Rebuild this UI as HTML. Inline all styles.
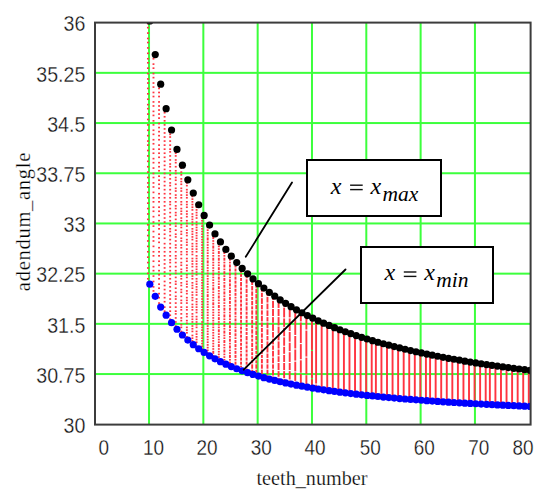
<!DOCTYPE html>
<html><head><meta charset="utf-8"><style>
html,body{margin:0;padding:0;background:#fff;width:550px;height:493px;overflow:hidden}
svg{display:block}
</style></head><body>
<svg width="550" height="493" viewBox="0 0 550 493">
<defs><clipPath id="pc"><rect x="94" y="22" width="437" height="403"/></clipPath></defs>
<rect width="550" height="493" fill="#fff"/>
<g fill="#3cff3c"><rect x="148.02" y="22" width="2.0" height="403"/><rect x="202.34" y="22" width="2.0" height="403"/><rect x="256.66" y="22" width="2.0" height="403"/><rect x="310.98" y="22" width="2.0" height="403"/><rect x="365.30" y="22" width="2.0" height="403"/><rect x="419.62" y="22" width="2.0" height="403"/><rect x="473.94" y="22" width="2.0" height="403"/><rect x="94" y="71.85" width="437" height="2.0"/><rect x="94" y="122.05" width="437" height="2.0"/><rect x="94" y="172.25" width="437" height="2.0"/><rect x="94" y="222.45" width="437" height="2.0"/><rect x="94" y="272.65" width="437" height="2.0"/><rect x="94" y="322.85" width="437" height="2.0"/><rect x="94" y="373.05" width="437" height="2.0"/></g>
<g clip-path="url(#pc)">
<g fill="#ff3440"><rect x="146.97" y="22.80" width="1.9" height="1.65"/><rect x="146.97" y="26.85" width="1.9" height="1.65"/><rect x="146.97" y="32.25" width="1.9" height="1.65"/><rect x="146.97" y="37.65" width="1.9" height="1.65"/><rect x="146.97" y="41.70" width="1.9" height="1.65"/><rect x="146.97" y="47.10" width="1.9" height="1.65"/><rect x="146.97" y="52.50" width="1.9" height="1.65"/><rect x="146.97" y="57.90" width="1.9" height="1.65"/><rect x="146.97" y="61.95" width="1.9" height="1.65"/><rect x="146.97" y="67.35" width="1.9" height="1.65"/><rect x="146.97" y="72.75" width="1.9" height="1.65"/><rect x="146.97" y="78.15" width="1.9" height="1.65"/><rect x="146.97" y="82.20" width="1.9" height="1.65"/><rect x="146.97" y="87.60" width="1.9" height="1.65"/><rect x="146.97" y="93.00" width="1.9" height="1.65"/><rect x="146.97" y="98.40" width="1.9" height="1.65"/><rect x="146.97" y="103.80" width="1.9" height="1.65"/><rect x="146.97" y="107.85" width="1.9" height="1.65"/><rect x="146.97" y="113.25" width="1.9" height="1.65"/><rect x="146.97" y="118.65" width="1.9" height="1.65"/><rect x="146.97" y="124.05" width="1.9" height="1.65"/><rect x="146.97" y="129.45" width="1.9" height="1.65"/><rect x="146.97" y="134.85" width="1.9" height="1.65"/><rect x="146.97" y="140.25" width="1.9" height="1.65"/><rect x="146.97" y="144.30" width="1.9" height="1.65"/><rect x="146.97" y="149.70" width="1.9" height="1.65"/><rect x="146.97" y="155.10" width="1.9" height="1.65"/><rect x="146.97" y="160.50" width="1.9" height="1.65"/><rect x="146.97" y="165.90" width="1.9" height="1.65"/><rect x="146.97" y="171.30" width="1.9" height="1.65"/><rect x="146.97" y="176.70" width="1.9" height="1.65"/><rect x="146.97" y="182.10" width="1.9" height="1.65"/><rect x="146.97" y="186.15" width="1.9" height="1.65"/><rect x="146.97" y="191.55" width="1.9" height="1.65"/><rect x="146.97" y="196.95" width="1.9" height="1.65"/><rect x="146.97" y="202.35" width="1.9" height="1.65"/><rect x="146.97" y="207.75" width="1.9" height="1.65"/><rect x="146.97" y="213.15" width="1.9" height="1.65"/><rect x="146.97" y="218.55" width="1.9" height="1.65"/><rect x="146.97" y="223.95" width="1.9" height="1.65"/><rect x="146.97" y="229.35" width="1.9" height="1.65"/><rect x="146.97" y="234.75" width="1.9" height="1.65"/><rect x="146.97" y="240.15" width="1.9" height="1.65"/><rect x="146.97" y="245.55" width="1.9" height="1.65"/><rect x="146.97" y="250.95" width="1.9" height="1.65"/><rect x="146.97" y="256.35" width="1.9" height="1.65"/><rect x="146.97" y="261.75" width="1.9" height="1.65"/><rect x="146.97" y="267.15" width="1.9" height="1.65"/><rect x="146.97" y="272.55" width="1.9" height="1.65"/><rect x="146.97" y="277.95" width="1.9" height="1.65"/><rect x="146.97" y="283.35" width="1.9" height="1.65"/><rect x="152.53" y="53.85" width="1.9" height="1.65"/><rect x="152.53" y="57.90" width="1.9" height="1.65"/><rect x="152.53" y="63.30" width="1.9" height="1.65"/><rect x="152.53" y="67.35" width="1.9" height="1.65"/><rect x="152.53" y="72.75" width="1.9" height="1.65"/><rect x="152.53" y="76.80" width="1.9" height="1.65"/><rect x="152.53" y="82.20" width="1.9" height="1.65"/><rect x="152.53" y="86.25" width="1.9" height="1.65"/><rect x="152.53" y="91.65" width="1.9" height="1.65"/><rect x="152.53" y="95.70" width="1.9" height="1.65"/><rect x="152.53" y="101.10" width="1.9" height="1.65"/><rect x="152.53" y="105.15" width="1.9" height="1.65"/><rect x="152.53" y="110.55" width="1.9" height="1.65"/><rect x="152.53" y="114.60" width="1.9" height="1.65"/><rect x="152.53" y="120.00" width="1.9" height="1.65"/><rect x="152.53" y="124.05" width="1.9" height="1.65"/><rect x="152.53" y="129.45" width="1.9" height="1.65"/><rect x="152.53" y="133.50" width="1.9" height="1.65"/><rect x="152.53" y="138.90" width="1.9" height="1.65"/><rect x="152.53" y="142.95" width="1.9" height="1.65"/><rect x="152.53" y="148.35" width="1.9" height="1.65"/><rect x="152.53" y="152.40" width="1.9" height="1.65"/><rect x="152.53" y="157.80" width="1.9" height="1.65"/><rect x="152.53" y="161.85" width="1.9" height="1.65"/><rect x="152.53" y="167.25" width="1.9" height="1.65"/><rect x="152.53" y="172.65" width="1.9" height="1.65"/><rect x="152.53" y="176.70" width="1.9" height="1.65"/><rect x="152.53" y="182.10" width="1.9" height="1.65"/><rect x="152.53" y="186.15" width="1.9" height="1.65"/><rect x="152.53" y="191.55" width="1.9" height="1.65"/><rect x="152.53" y="196.95" width="1.9" height="1.65"/><rect x="152.53" y="201.00" width="1.9" height="1.65"/><rect x="152.53" y="206.40" width="1.9" height="1.65"/><rect x="152.53" y="210.45" width="1.9" height="1.65"/><rect x="152.53" y="215.85" width="1.9" height="1.65"/><rect x="152.53" y="221.25" width="1.9" height="1.65"/><rect x="152.53" y="225.30" width="1.9" height="1.65"/><rect x="152.53" y="230.70" width="1.9" height="1.65"/><rect x="152.53" y="236.10" width="1.9" height="1.65"/><rect x="152.53" y="240.15" width="1.9" height="1.65"/><rect x="152.53" y="245.55" width="1.9" height="1.65"/><rect x="152.53" y="250.95" width="1.9" height="1.65"/><rect x="152.53" y="255.00" width="1.9" height="1.65"/><rect x="152.53" y="260.40" width="1.9" height="1.65"/><rect x="152.53" y="265.80" width="1.9" height="1.65"/><rect x="152.53" y="269.85" width="1.9" height="1.65"/><rect x="152.53" y="275.25" width="1.9" height="1.65"/><rect x="152.53" y="280.65" width="1.9" height="1.65"/><rect x="152.53" y="286.05" width="1.9" height="1.65"/><rect x="152.53" y="290.10" width="1.9" height="1.65"/><rect x="152.53" y="295.50" width="1.9" height="1.65"/><rect x="158.09" y="83.55" width="1.9" height="1.65"/><rect x="158.09" y="87.60" width="1.9" height="1.65"/><rect x="158.09" y="91.65" width="1.9" height="1.65"/><rect x="158.09" y="95.70" width="1.9" height="1.65"/><rect x="158.09" y="101.10" width="1.9" height="1.65"/><rect x="158.09" y="105.15" width="1.9" height="1.65"/><rect x="158.09" y="109.20" width="1.9" height="1.65"/><rect x="158.09" y="113.25" width="1.9" height="1.65"/><rect x="158.09" y="117.30" width="1.9" height="1.65"/><rect x="158.09" y="122.70" width="1.9" height="1.65"/><rect x="158.09" y="126.75" width="1.9" height="1.65"/><rect x="158.09" y="130.80" width="1.9" height="1.65"/><rect x="158.09" y="134.85" width="1.9" height="1.65"/><rect x="158.09" y="138.90" width="1.9" height="1.65"/><rect x="158.09" y="144.30" width="1.9" height="1.65"/><rect x="158.09" y="148.35" width="1.9" height="1.65"/><rect x="158.09" y="152.40" width="1.9" height="1.65"/><rect x="158.09" y="156.45" width="1.9" height="1.65"/><rect x="158.09" y="161.85" width="1.9" height="1.65"/><rect x="158.09" y="165.90" width="1.9" height="1.65"/><rect x="158.09" y="169.95" width="1.9" height="1.65"/><rect x="158.09" y="175.35" width="1.9" height="1.65"/><rect x="158.09" y="179.40" width="1.9" height="1.65"/><rect x="158.09" y="183.45" width="1.9" height="1.65"/><rect x="158.09" y="187.50" width="1.9" height="1.65"/><rect x="158.09" y="192.90" width="1.9" height="1.65"/><rect x="158.09" y="196.95" width="1.9" height="1.65"/><rect x="158.09" y="201.00" width="1.9" height="1.65"/><rect x="158.09" y="206.40" width="1.9" height="1.65"/><rect x="158.09" y="210.45" width="1.9" height="1.65"/><rect x="158.09" y="214.50" width="1.9" height="1.65"/><rect x="158.09" y="219.90" width="1.9" height="1.65"/><rect x="158.09" y="223.95" width="1.9" height="1.65"/><rect x="158.09" y="228.00" width="1.9" height="1.65"/><rect x="158.09" y="233.40" width="1.9" height="1.65"/><rect x="158.09" y="237.45" width="1.9" height="1.65"/><rect x="158.09" y="241.50" width="1.9" height="1.65"/><rect x="158.09" y="246.90" width="1.9" height="1.65"/><rect x="158.09" y="250.95" width="1.9" height="1.65"/><rect x="158.09" y="255.00" width="1.9" height="1.65"/><rect x="158.09" y="260.40" width="1.9" height="1.65"/><rect x="158.09" y="264.45" width="1.9" height="1.65"/><rect x="158.09" y="269.85" width="1.9" height="1.65"/><rect x="158.09" y="273.90" width="1.9" height="1.65"/><rect x="158.09" y="277.95" width="1.9" height="1.65"/><rect x="158.09" y="283.35" width="1.9" height="1.65"/><rect x="158.09" y="287.40" width="1.9" height="1.65"/><rect x="158.09" y="292.80" width="1.9" height="1.65"/><rect x="158.09" y="296.85" width="1.9" height="1.65"/><rect x="158.09" y="302.25" width="1.9" height="1.65"/><rect x="158.09" y="306.30" width="1.9" height="1.65"/><rect x="163.66" y="107.85" width="1.9" height="1.65"/><rect x="163.66" y="111.90" width="1.9" height="1.65"/><rect x="163.66" y="115.95" width="1.9" height="1.65"/><rect x="163.66" y="120.00" width="1.9" height="1.65"/><rect x="163.66" y="124.05" width="1.9" height="1.65"/><rect x="163.66" y="128.10" width="1.9" height="1.65"/><rect x="163.66" y="132.15" width="1.9" height="1.65"/><rect x="163.66" y="136.20" width="1.9" height="1.65"/><rect x="163.66" y="140.25" width="1.9" height="1.65"/><rect x="163.66" y="144.30" width="1.9" height="1.65"/><rect x="163.66" y="148.35" width="1.9" height="1.65"/><rect x="163.66" y="152.40" width="1.9" height="1.65"/><rect x="163.66" y="156.45" width="1.9" height="1.65"/><rect x="163.66" y="160.50" width="1.9" height="1.65"/><rect x="163.66" y="164.55" width="1.9" height="1.65"/><rect x="163.66" y="168.60" width="1.9" height="1.65"/><rect x="163.66" y="172.65" width="1.9" height="1.65"/><rect x="163.66" y="176.70" width="1.9" height="1.65"/><rect x="163.66" y="180.75" width="1.9" height="1.65"/><rect x="163.66" y="184.80" width="1.9" height="1.65"/><rect x="163.66" y="188.85" width="1.9" height="1.65"/><rect x="163.66" y="192.90" width="1.9" height="1.65"/><rect x="163.66" y="196.95" width="1.9" height="1.65"/><rect x="163.66" y="201.00" width="1.9" height="1.65"/><rect x="163.66" y="205.05" width="1.9" height="1.65"/><rect x="163.66" y="209.10" width="1.9" height="1.65"/><rect x="163.66" y="213.15" width="1.9" height="1.65"/><rect x="163.66" y="217.20" width="1.9" height="1.65"/><rect x="163.66" y="221.25" width="1.9" height="1.65"/><rect x="163.66" y="225.30" width="1.9" height="1.65"/><rect x="163.66" y="229.35" width="1.9" height="1.65"/><rect x="163.66" y="233.40" width="1.9" height="1.65"/><rect x="163.66" y="237.45" width="1.9" height="1.65"/><rect x="163.66" y="242.85" width="1.9" height="1.65"/><rect x="163.66" y="246.90" width="1.9" height="1.65"/><rect x="163.66" y="250.95" width="1.9" height="1.65"/><rect x="163.66" y="255.00" width="1.9" height="1.65"/><rect x="163.66" y="259.05" width="1.9" height="1.65"/><rect x="163.66" y="263.10" width="1.9" height="1.65"/><rect x="163.66" y="267.15" width="1.9" height="1.65"/><rect x="163.66" y="271.20" width="1.9" height="1.65"/><rect x="163.66" y="275.25" width="1.9" height="1.65"/><rect x="163.66" y="280.65" width="1.9" height="1.65"/><rect x="163.66" y="284.70" width="1.9" height="1.65"/><rect x="163.66" y="288.75" width="1.9" height="1.65"/><rect x="163.66" y="292.80" width="1.9" height="1.65"/><rect x="163.66" y="296.85" width="1.9" height="1.65"/><rect x="163.66" y="300.90" width="1.9" height="1.65"/><rect x="163.66" y="306.30" width="1.9" height="1.65"/><rect x="163.66" y="310.35" width="1.9" height="1.65"/><rect x="163.66" y="314.40" width="1.9" height="1.65"/><rect x="169.22" y="129.45" width="1.9" height="1.65"/><rect x="169.22" y="133.50" width="1.9" height="1.65"/><rect x="169.22" y="136.20" width="1.9" height="1.65"/><rect x="169.22" y="140.25" width="1.9" height="1.65"/><rect x="169.22" y="144.30" width="1.9" height="1.65"/><rect x="169.22" y="148.35" width="1.9" height="1.65"/><rect x="169.22" y="151.05" width="1.9" height="1.65"/><rect x="169.22" y="155.10" width="1.9" height="1.65"/><rect x="169.22" y="159.15" width="1.9" height="1.65"/><rect x="169.22" y="163.20" width="1.9" height="1.65"/><rect x="169.22" y="165.90" width="1.9" height="1.65"/><rect x="169.22" y="169.95" width="1.9" height="1.65"/><rect x="169.22" y="174.00" width="1.9" height="1.65"/><rect x="169.22" y="178.05" width="1.9" height="1.65"/><rect x="169.22" y="182.10" width="1.9" height="1.65"/><rect x="169.22" y="184.80" width="1.9" height="1.65"/><rect x="169.22" y="188.85" width="1.9" height="1.65"/><rect x="169.22" y="192.90" width="1.9" height="1.65"/><rect x="169.22" y="196.95" width="1.9" height="1.65"/><rect x="169.22" y="201.00" width="1.9" height="1.65"/><rect x="169.22" y="203.70" width="1.9" height="1.65"/><rect x="169.22" y="207.75" width="1.9" height="1.65"/><rect x="169.22" y="211.80" width="1.9" height="1.65"/><rect x="169.22" y="215.85" width="1.9" height="1.65"/><rect x="169.22" y="219.90" width="1.9" height="1.65"/><rect x="169.22" y="223.95" width="1.9" height="1.65"/><rect x="169.22" y="228.00" width="1.9" height="1.65"/><rect x="169.22" y="230.70" width="1.9" height="1.65"/><rect x="169.22" y="234.75" width="1.9" height="1.65"/><rect x="169.22" y="238.80" width="1.9" height="1.65"/><rect x="169.22" y="242.85" width="1.9" height="1.65"/><rect x="169.22" y="246.90" width="1.9" height="1.65"/><rect x="169.22" y="250.95" width="1.9" height="1.65"/><rect x="169.22" y="255.00" width="1.9" height="1.65"/><rect x="169.22" y="259.05" width="1.9" height="1.65"/><rect x="169.22" y="261.75" width="1.9" height="1.65"/><rect x="169.22" y="265.80" width="1.9" height="1.65"/><rect x="169.22" y="269.85" width="1.9" height="1.65"/><rect x="169.22" y="273.90" width="1.9" height="1.65"/><rect x="169.22" y="277.95" width="1.9" height="1.65"/><rect x="169.22" y="282.00" width="1.9" height="1.65"/><rect x="169.22" y="286.05" width="1.9" height="1.65"/><rect x="169.22" y="290.10" width="1.9" height="1.65"/><rect x="169.22" y="294.15" width="1.9" height="1.65"/><rect x="169.22" y="298.20" width="1.9" height="1.65"/><rect x="169.22" y="302.25" width="1.9" height="1.65"/><rect x="169.22" y="306.30" width="1.9" height="1.65"/><rect x="169.22" y="310.35" width="1.9" height="1.65"/><rect x="169.22" y="314.40" width="1.9" height="1.65"/><rect x="169.22" y="318.45" width="1.9" height="1.65"/><rect x="169.22" y="322.50" width="1.9" height="1.65"/><rect x="174.78" y="148.35" width="1.9" height="1.65"/><rect x="174.78" y="152.40" width="1.9" height="1.65"/><rect x="174.78" y="155.10" width="1.9" height="1.65"/><rect x="174.78" y="159.15" width="1.9" height="1.65"/><rect x="174.78" y="161.85" width="1.9" height="1.65"/><rect x="174.78" y="165.90" width="1.9" height="1.65"/><rect x="174.78" y="169.95" width="1.9" height="1.65"/><rect x="174.78" y="172.65" width="1.9" height="1.65"/><rect x="174.78" y="176.70" width="1.9" height="1.65"/><rect x="174.78" y="179.40" width="1.9" height="1.65"/><rect x="174.78" y="183.45" width="1.9" height="1.65"/><rect x="174.78" y="187.50" width="1.9" height="1.65"/><rect x="174.78" y="190.20" width="1.9" height="1.65"/><rect x="174.78" y="194.25" width="1.9" height="1.65"/><rect x="174.78" y="196.95" width="1.9" height="1.65"/><rect x="174.78" y="201.00" width="1.9" height="1.65"/><rect x="174.78" y="205.05" width="1.9" height="1.65"/><rect x="174.78" y="207.75" width="1.9" height="1.65"/><rect x="174.78" y="211.80" width="1.9" height="1.65"/><rect x="174.78" y="214.50" width="1.9" height="1.65"/><rect x="174.78" y="218.55" width="1.9" height="1.65"/><rect x="174.78" y="222.60" width="1.9" height="1.65"/><rect x="174.78" y="225.30" width="1.9" height="1.65"/><rect x="174.78" y="229.35" width="1.9" height="1.65"/><rect x="174.78" y="233.40" width="1.9" height="1.65"/><rect x="174.78" y="236.10" width="1.9" height="1.65"/><rect x="174.78" y="240.15" width="1.9" height="1.65"/><rect x="174.78" y="244.20" width="1.9" height="1.65"/><rect x="174.78" y="246.90" width="1.9" height="1.65"/><rect x="174.78" y="250.95" width="1.9" height="1.65"/><rect x="174.78" y="255.00" width="1.9" height="1.65"/><rect x="174.78" y="257.70" width="1.9" height="1.65"/><rect x="174.78" y="261.75" width="1.9" height="1.65"/><rect x="174.78" y="265.80" width="1.9" height="1.65"/><rect x="174.78" y="269.85" width="1.9" height="1.65"/><rect x="174.78" y="272.55" width="1.9" height="1.65"/><rect x="174.78" y="276.60" width="1.9" height="1.65"/><rect x="174.78" y="280.65" width="1.9" height="1.65"/><rect x="174.78" y="283.35" width="1.9" height="1.65"/><rect x="174.78" y="287.40" width="1.9" height="1.65"/><rect x="174.78" y="291.45" width="1.9" height="1.65"/><rect x="174.78" y="295.50" width="1.9" height="1.65"/><rect x="174.78" y="298.20" width="1.9" height="1.65"/><rect x="174.78" y="302.25" width="1.9" height="1.65"/><rect x="174.78" y="306.30" width="1.9" height="1.65"/><rect x="174.78" y="310.35" width="1.9" height="1.65"/><rect x="174.78" y="313.05" width="1.9" height="1.65"/><rect x="174.78" y="317.10" width="1.9" height="1.65"/><rect x="174.78" y="321.15" width="1.9" height="1.65"/><rect x="174.78" y="325.20" width="1.9" height="1.65"/><rect x="174.78" y="327.90" width="1.9" height="1.65"/><rect x="180.34" y="164.55" width="1.9" height="1.65"/><rect x="180.34" y="167.25" width="1.9" height="1.65"/><rect x="180.34" y="171.30" width="1.9" height="1.65"/><rect x="180.34" y="174.00" width="1.9" height="1.65"/><rect x="180.34" y="178.05" width="1.9" height="1.65"/><rect x="180.34" y="180.75" width="1.9" height="1.65"/><rect x="180.34" y="183.45" width="1.9" height="1.65"/><rect x="180.34" y="187.50" width="1.9" height="1.65"/><rect x="180.34" y="190.20" width="1.9" height="1.65"/><rect x="180.34" y="194.25" width="1.9" height="1.65"/><rect x="180.34" y="196.95" width="1.9" height="1.65"/><rect x="180.34" y="201.00" width="1.9" height="1.65"/><rect x="180.34" y="203.70" width="1.9" height="1.65"/><rect x="180.34" y="207.75" width="1.9" height="1.65"/><rect x="180.34" y="210.45" width="1.9" height="1.65"/><rect x="180.34" y="213.15" width="1.9" height="1.65"/><rect x="180.34" y="217.20" width="1.9" height="1.65"/><rect x="180.34" y="219.90" width="1.9" height="1.65"/><rect x="180.34" y="223.95" width="1.9" height="1.65"/><rect x="180.34" y="226.65" width="1.9" height="1.65"/><rect x="180.34" y="230.70" width="1.9" height="1.65"/><rect x="180.34" y="233.40" width="1.9" height="1.65"/><rect x="180.34" y="237.45" width="1.9" height="1.65"/><rect x="180.34" y="240.15" width="1.9" height="1.65"/><rect x="180.34" y="244.20" width="1.9" height="1.65"/><rect x="180.34" y="246.90" width="1.9" height="1.65"/><rect x="180.34" y="250.95" width="1.9" height="1.65"/><rect x="180.34" y="253.65" width="1.9" height="1.65"/><rect x="180.34" y="257.70" width="1.9" height="1.65"/><rect x="180.34" y="261.75" width="1.9" height="1.65"/><rect x="180.34" y="264.45" width="1.9" height="1.65"/><rect x="180.34" y="268.50" width="1.9" height="1.65"/><rect x="180.34" y="271.20" width="1.9" height="1.65"/><rect x="180.34" y="275.25" width="1.9" height="1.65"/><rect x="180.34" y="277.95" width="1.9" height="1.65"/><rect x="180.34" y="282.00" width="1.9" height="1.65"/><rect x="180.34" y="284.70" width="1.9" height="1.65"/><rect x="180.34" y="288.75" width="1.9" height="1.65"/><rect x="180.34" y="291.45" width="1.9" height="1.65"/><rect x="180.34" y="295.50" width="1.9" height="1.65"/><rect x="180.34" y="299.55" width="1.9" height="1.65"/><rect x="180.34" y="302.25" width="1.9" height="1.65"/><rect x="180.34" y="306.30" width="1.9" height="1.65"/><rect x="180.34" y="309.00" width="1.9" height="1.65"/><rect x="180.34" y="313.05" width="1.9" height="1.65"/><rect x="180.34" y="317.10" width="1.9" height="1.65"/><rect x="180.34" y="319.80" width="1.9" height="1.65"/><rect x="180.34" y="323.85" width="1.9" height="1.65"/><rect x="180.34" y="326.55" width="1.9" height="1.65"/><rect x="180.34" y="330.60" width="1.9" height="1.65"/><rect x="180.34" y="334.65" width="1.9" height="1.65"/><rect x="185.90" y="179.40" width="1.9" height="1.65"/><rect x="185.90" y="182.10" width="1.9" height="1.65"/><rect x="185.90" y="184.80" width="1.9" height="1.65"/><rect x="185.90" y="188.85" width="1.9" height="1.65"/><rect x="185.90" y="191.55" width="1.9" height="1.65"/><rect x="185.90" y="194.25" width="1.9" height="1.65"/><rect x="185.90" y="196.95" width="1.9" height="1.65"/><rect x="185.90" y="201.00" width="1.9" height="1.65"/><rect x="185.90" y="203.70" width="1.9" height="1.65"/><rect x="185.90" y="206.40" width="1.9" height="1.65"/><rect x="185.90" y="210.45" width="1.9" height="1.65"/><rect x="185.90" y="213.15" width="1.9" height="1.65"/><rect x="185.90" y="215.85" width="1.9" height="1.65"/><rect x="185.90" y="219.90" width="1.9" height="1.65"/><rect x="185.90" y="222.60" width="1.9" height="1.65"/><rect x="185.90" y="225.30" width="1.9" height="1.65"/><rect x="185.90" y="229.35" width="1.9" height="1.65"/><rect x="185.90" y="232.05" width="1.9" height="1.65"/><rect x="185.90" y="234.75" width="1.9" height="1.65"/><rect x="185.90" y="238.80" width="1.9" height="1.65"/><rect x="185.90" y="241.50" width="1.9" height="1.65"/><rect x="185.90" y="244.20" width="1.9" height="1.65"/><rect x="185.90" y="248.25" width="1.9" height="1.65"/><rect x="185.90" y="250.95" width="1.9" height="1.65"/><rect x="185.90" y="253.65" width="1.9" height="1.65"/><rect x="185.90" y="257.70" width="1.9" height="1.65"/><rect x="185.90" y="260.40" width="1.9" height="1.65"/><rect x="185.90" y="264.45" width="1.9" height="1.65"/><rect x="185.90" y="267.15" width="1.9" height="1.65"/><rect x="185.90" y="269.85" width="1.9" height="1.65"/><rect x="185.90" y="273.90" width="1.9" height="1.65"/><rect x="185.90" y="276.60" width="1.9" height="1.65"/><rect x="185.90" y="280.65" width="1.9" height="1.65"/><rect x="185.90" y="283.35" width="1.9" height="1.65"/><rect x="185.90" y="286.05" width="1.9" height="1.65"/><rect x="185.90" y="290.10" width="1.9" height="1.65"/><rect x="185.90" y="292.80" width="1.9" height="1.65"/><rect x="185.90" y="296.85" width="1.9" height="1.65"/><rect x="185.90" y="299.55" width="1.9" height="1.65"/><rect x="185.90" y="302.25" width="1.9" height="1.65"/><rect x="185.90" y="306.30" width="1.9" height="1.65"/><rect x="185.90" y="309.00" width="1.9" height="1.65"/><rect x="185.90" y="313.05" width="1.9" height="1.65"/><rect x="185.90" y="315.75" width="1.9" height="1.65"/><rect x="185.90" y="319.80" width="1.9" height="1.65"/><rect x="185.90" y="322.50" width="1.9" height="1.65"/><rect x="185.90" y="326.55" width="1.9" height="1.65"/><rect x="185.90" y="329.25" width="1.9" height="1.65"/><rect x="185.90" y="331.95" width="1.9" height="1.65"/><rect x="185.90" y="336.00" width="1.9" height="1.65"/><rect x="185.90" y="338.70" width="1.9" height="1.65"/><rect x="191.46" y="191.55" width="1.9" height="1.65"/><rect x="191.46" y="195.60" width="1.9" height="1.65"/><rect x="191.46" y="198.30" width="1.9" height="1.65"/><rect x="191.46" y="201.00" width="1.9" height="1.65"/><rect x="191.46" y="203.70" width="1.9" height="1.65"/><rect x="191.46" y="206.40" width="1.9" height="1.65"/><rect x="191.46" y="209.10" width="1.9" height="1.65"/><rect x="191.46" y="213.15" width="1.9" height="1.65"/><rect x="191.46" y="215.85" width="1.9" height="1.65"/><rect x="191.46" y="218.55" width="1.9" height="1.65"/><rect x="191.46" y="221.25" width="1.9" height="1.65"/><rect x="191.46" y="223.95" width="1.9" height="1.65"/><rect x="191.46" y="228.00" width="1.9" height="1.65"/><rect x="191.46" y="230.70" width="1.9" height="1.65"/><rect x="191.46" y="233.40" width="1.9" height="1.65"/><rect x="191.46" y="236.10" width="1.9" height="1.65"/><rect x="191.46" y="238.80" width="1.9" height="1.65"/><rect x="191.46" y="242.85" width="1.9" height="1.65"/><rect x="191.46" y="245.55" width="1.9" height="1.65"/><rect x="191.46" y="248.25" width="1.9" height="1.65"/><rect x="191.46" y="250.95" width="1.9" height="1.65"/><rect x="191.46" y="253.65" width="1.9" height="1.65"/><rect x="191.46" y="257.70" width="1.9" height="1.65"/><rect x="191.46" y="260.40" width="1.9" height="1.65"/><rect x="191.46" y="263.10" width="1.9" height="1.65"/><rect x="191.46" y="265.80" width="1.9" height="1.65"/><rect x="191.46" y="269.85" width="1.9" height="1.65"/><rect x="191.46" y="272.55" width="1.9" height="1.65"/><rect x="191.46" y="275.25" width="1.9" height="1.65"/><rect x="191.46" y="277.95" width="1.9" height="1.65"/><rect x="191.46" y="282.00" width="1.9" height="1.65"/><rect x="191.46" y="284.70" width="1.9" height="1.65"/><rect x="191.46" y="287.40" width="1.9" height="1.65"/><rect x="191.46" y="291.45" width="1.9" height="1.65"/><rect x="191.46" y="294.15" width="1.9" height="1.65"/><rect x="191.46" y="296.85" width="1.9" height="1.65"/><rect x="191.46" y="299.55" width="1.9" height="1.65"/><rect x="191.46" y="303.60" width="1.9" height="1.65"/><rect x="191.46" y="306.30" width="1.9" height="1.65"/><rect x="191.46" y="309.00" width="1.9" height="1.65"/><rect x="191.46" y="313.05" width="1.9" height="1.65"/><rect x="191.46" y="315.75" width="1.9" height="1.65"/><rect x="191.46" y="318.45" width="1.9" height="1.65"/><rect x="191.46" y="321.15" width="1.9" height="1.65"/><rect x="191.46" y="325.20" width="1.9" height="1.65"/><rect x="191.46" y="327.90" width="1.9" height="1.65"/><rect x="191.46" y="330.60" width="1.9" height="1.65"/><rect x="191.46" y="334.65" width="1.9" height="1.65"/><rect x="191.46" y="337.35" width="1.9" height="1.65"/><rect x="191.46" y="340.05" width="1.9" height="1.65"/><rect x="191.46" y="344.10" width="1.9" height="1.65"/><rect x="195.62" y="203.70" width="1.9" height="1.65"/><rect x="195.62" y="206.40" width="1.9" height="1.65"/><rect x="195.62" y="209.10" width="1.9" height="1.65"/><rect x="195.62" y="211.80" width="1.9" height="1.65"/><rect x="195.62" y="214.50" width="1.9" height="1.65"/><rect x="195.62" y="217.20" width="1.9" height="1.65"/><rect x="195.62" y="221.25" width="1.9" height="1.65"/><rect x="195.62" y="223.95" width="1.9" height="1.65"/><rect x="195.62" y="226.65" width="1.9" height="1.65"/><rect x="195.62" y="229.35" width="1.9" height="1.65"/><rect x="195.62" y="232.05" width="1.9" height="1.65"/><rect x="195.62" y="234.75" width="1.9" height="1.65"/><rect x="195.62" y="237.45" width="1.9" height="1.65"/><rect x="195.62" y="240.15" width="1.9" height="1.65"/><rect x="195.62" y="242.85" width="1.9" height="1.65"/><rect x="195.62" y="245.55" width="1.9" height="1.65"/><rect x="195.62" y="248.25" width="1.9" height="1.65"/><rect x="195.62" y="250.95" width="1.9" height="1.65"/><rect x="195.62" y="255.00" width="1.9" height="1.65"/><rect x="195.62" y="257.70" width="1.9" height="1.65"/><rect x="195.62" y="260.40" width="1.9" height="1.65"/><rect x="195.62" y="263.10" width="1.9" height="1.65"/><rect x="195.62" y="265.80" width="1.9" height="1.65"/><rect x="195.62" y="268.50" width="1.9" height="1.65"/><rect x="195.62" y="271.20" width="1.9" height="1.65"/><rect x="195.62" y="273.90" width="1.9" height="1.65"/><rect x="195.62" y="277.95" width="1.9" height="1.65"/><rect x="195.62" y="280.65" width="1.9" height="1.65"/><rect x="195.62" y="283.35" width="1.9" height="1.65"/><rect x="195.62" y="286.05" width="1.9" height="1.65"/><rect x="195.62" y="288.75" width="1.9" height="1.65"/><rect x="195.62" y="291.45" width="1.9" height="1.65"/><rect x="195.62" y="294.15" width="1.9" height="1.65"/><rect x="195.62" y="298.20" width="1.9" height="1.65"/><rect x="195.62" y="300.90" width="1.9" height="1.65"/><rect x="195.62" y="303.60" width="1.9" height="1.65"/><rect x="195.62" y="306.30" width="1.9" height="1.65"/><rect x="195.62" y="309.00" width="1.9" height="1.65"/><rect x="195.62" y="311.70" width="1.9" height="1.65"/><rect x="195.62" y="315.75" width="1.9" height="1.65"/><rect x="195.62" y="318.45" width="1.9" height="1.65"/><rect x="195.62" y="321.15" width="1.9" height="1.65"/><rect x="195.62" y="323.85" width="1.9" height="1.65"/><rect x="195.62" y="326.55" width="1.9" height="1.65"/><rect x="195.62" y="330.60" width="1.9" height="1.65"/><rect x="195.62" y="333.30" width="1.9" height="1.65"/><rect x="195.62" y="336.00" width="1.9" height="1.65"/><rect x="195.62" y="338.70" width="1.9" height="1.65"/><rect x="195.62" y="341.40" width="1.9" height="1.65"/><rect x="195.62" y="345.45" width="1.9" height="1.65"/><rect x="195.62" y="348.15" width="1.9" height="1.65"/><rect x="201.19" y="214.50" width="1.9" height="1.65"/><rect x="201.19" y="217.20" width="1.9" height="1.65"/><rect x="201.19" y="219.90" width="1.9" height="1.65"/><rect x="201.19" y="222.60" width="1.9" height="1.65"/><rect x="201.19" y="225.30" width="1.9" height="1.65"/><rect x="201.19" y="228.00" width="1.9" height="1.65"/><rect x="201.19" y="230.70" width="1.9" height="1.65"/><rect x="201.19" y="233.40" width="1.9" height="1.65"/><rect x="201.19" y="236.10" width="1.9" height="1.65"/><rect x="201.19" y="238.80" width="1.9" height="1.65"/><rect x="201.19" y="241.50" width="1.9" height="1.65"/><rect x="201.19" y="244.20" width="1.9" height="1.65"/><rect x="201.19" y="246.90" width="1.9" height="1.65"/><rect x="201.19" y="249.60" width="1.9" height="1.65"/><rect x="201.19" y="252.30" width="1.9" height="1.65"/><rect x="201.19" y="255.00" width="1.9" height="1.65"/><rect x="201.19" y="257.70" width="1.9" height="1.65"/><rect x="201.19" y="260.40" width="1.9" height="1.65"/><rect x="201.19" y="263.10" width="1.9" height="1.65"/><rect x="201.19" y="265.80" width="1.9" height="1.65"/><rect x="201.19" y="268.50" width="1.9" height="1.65"/><rect x="201.19" y="271.20" width="1.9" height="1.65"/><rect x="201.19" y="273.90" width="1.9" height="1.65"/><rect x="201.19" y="276.60" width="1.9" height="1.65"/><rect x="201.19" y="279.30" width="1.9" height="1.65"/><rect x="201.19" y="282.00" width="1.9" height="1.65"/><rect x="201.19" y="284.70" width="1.9" height="1.65"/><rect x="201.19" y="287.40" width="1.9" height="1.65"/><rect x="201.19" y="290.10" width="1.9" height="1.65"/><rect x="201.19" y="292.80" width="1.9" height="1.65"/><rect x="201.19" y="295.50" width="1.9" height="1.65"/><rect x="201.19" y="298.20" width="1.9" height="1.65"/><rect x="201.19" y="300.90" width="1.9" height="1.65"/><rect x="201.19" y="303.60" width="1.9" height="1.65"/><rect x="201.19" y="306.30" width="1.9" height="1.65"/><rect x="201.19" y="309.00" width="1.9" height="1.65"/><rect x="201.19" y="311.70" width="1.9" height="1.65"/><rect x="201.19" y="314.40" width="1.9" height="1.65"/><rect x="201.19" y="317.10" width="1.9" height="1.65"/><rect x="201.19" y="321.15" width="1.9" height="1.65"/><rect x="201.19" y="323.85" width="1.9" height="1.65"/><rect x="201.19" y="326.55" width="1.9" height="1.65"/><rect x="201.19" y="329.25" width="1.9" height="1.65"/><rect x="201.19" y="331.95" width="1.9" height="1.65"/><rect x="201.19" y="334.65" width="1.9" height="1.65"/><rect x="201.19" y="337.35" width="1.9" height="1.65"/><rect x="201.19" y="340.05" width="1.9" height="1.65"/><rect x="201.19" y="342.75" width="1.9" height="1.65"/><rect x="201.19" y="345.45" width="1.9" height="1.65"/><rect x="201.19" y="348.15" width="1.9" height="1.65"/><rect x="201.19" y="352.20" width="1.9" height="1.65"/><rect x="206.75" y="223.95" width="1.9" height="1.65"/><rect x="206.75" y="226.65" width="1.9" height="1.65"/><rect x="206.75" y="229.35" width="1.9" height="1.65"/><rect x="206.75" y="232.05" width="1.9" height="1.65"/><rect x="206.75" y="234.75" width="1.9" height="1.65"/><rect x="206.75" y="237.45" width="1.9" height="3.00"/><rect x="206.75" y="241.50" width="1.9" height="1.65"/><rect x="206.75" y="244.20" width="1.9" height="1.65"/><rect x="206.75" y="246.90" width="1.9" height="1.65"/><rect x="206.75" y="249.60" width="1.9" height="1.65"/><rect x="206.75" y="252.30" width="1.9" height="1.65"/><rect x="206.75" y="255.00" width="1.9" height="1.65"/><rect x="206.75" y="257.70" width="1.9" height="1.65"/><rect x="206.75" y="260.40" width="1.9" height="3.00"/><rect x="206.75" y="264.45" width="1.9" height="1.65"/><rect x="206.75" y="267.15" width="1.9" height="1.65"/><rect x="206.75" y="269.85" width="1.9" height="1.65"/><rect x="206.75" y="272.55" width="1.9" height="1.65"/><rect x="206.75" y="275.25" width="1.9" height="1.65"/><rect x="206.75" y="277.95" width="1.9" height="1.65"/><rect x="206.75" y="280.65" width="1.9" height="1.65"/><rect x="206.75" y="283.35" width="1.9" height="1.65"/><rect x="206.75" y="286.05" width="1.9" height="1.65"/><rect x="206.75" y="288.75" width="1.9" height="1.65"/><rect x="206.75" y="291.45" width="1.9" height="1.65"/><rect x="206.75" y="294.15" width="1.9" height="3.00"/><rect x="206.75" y="298.20" width="1.9" height="1.65"/><rect x="206.75" y="300.90" width="1.9" height="1.65"/><rect x="206.75" y="303.60" width="1.9" height="1.65"/><rect x="206.75" y="306.30" width="1.9" height="1.65"/><rect x="206.75" y="309.00" width="1.9" height="1.65"/><rect x="206.75" y="311.70" width="1.9" height="1.65"/><rect x="206.75" y="314.40" width="1.9" height="1.65"/><rect x="206.75" y="317.10" width="1.9" height="1.65"/><rect x="206.75" y="319.80" width="1.9" height="1.65"/><rect x="206.75" y="322.50" width="1.9" height="1.65"/><rect x="206.75" y="325.20" width="1.9" height="1.65"/><rect x="206.75" y="327.90" width="1.9" height="1.65"/><rect x="206.75" y="330.60" width="1.9" height="1.65"/><rect x="206.75" y="333.30" width="1.9" height="1.65"/><rect x="206.75" y="336.00" width="1.9" height="1.65"/><rect x="206.75" y="338.70" width="1.9" height="1.65"/><rect x="206.75" y="341.40" width="1.9" height="1.65"/><rect x="206.75" y="344.10" width="1.9" height="1.65"/><rect x="206.75" y="346.80" width="1.9" height="1.65"/><rect x="206.75" y="349.50" width="1.9" height="1.65"/><rect x="206.75" y="352.20" width="1.9" height="1.65"/><rect x="206.75" y="354.90" width="1.9" height="1.65"/><rect x="212.31" y="233.40" width="1.9" height="1.65"/><rect x="212.31" y="236.10" width="1.9" height="3.00"/><rect x="212.31" y="240.15" width="1.9" height="1.65"/><rect x="212.31" y="242.85" width="1.9" height="1.65"/><rect x="212.31" y="245.55" width="1.9" height="3.00"/><rect x="212.31" y="249.60" width="1.9" height="1.65"/><rect x="212.31" y="252.30" width="1.9" height="1.65"/><rect x="212.31" y="255.00" width="1.9" height="1.65"/><rect x="212.31" y="257.70" width="1.9" height="3.00"/><rect x="212.31" y="261.75" width="1.9" height="1.65"/><rect x="212.31" y="264.45" width="1.9" height="1.65"/><rect x="212.31" y="267.15" width="1.9" height="1.65"/><rect x="212.31" y="269.85" width="1.9" height="1.65"/><rect x="212.31" y="272.55" width="1.9" height="3.00"/><rect x="212.31" y="276.60" width="1.9" height="1.65"/><rect x="212.31" y="279.30" width="1.9" height="1.65"/><rect x="212.31" y="282.00" width="1.9" height="1.65"/><rect x="212.31" y="284.70" width="1.9" height="1.65"/><rect x="212.31" y="287.40" width="1.9" height="3.00"/><rect x="212.31" y="291.45" width="1.9" height="1.65"/><rect x="212.31" y="294.15" width="1.9" height="1.65"/><rect x="212.31" y="296.85" width="1.9" height="1.65"/><rect x="212.31" y="299.55" width="1.9" height="1.65"/><rect x="212.31" y="302.25" width="1.9" height="3.00"/><rect x="212.31" y="306.30" width="1.9" height="1.65"/><rect x="212.31" y="309.00" width="1.9" height="1.65"/><rect x="212.31" y="311.70" width="1.9" height="1.65"/><rect x="212.31" y="314.40" width="1.9" height="1.65"/><rect x="212.31" y="317.10" width="1.9" height="1.65"/><rect x="212.31" y="319.80" width="1.9" height="1.65"/><rect x="212.31" y="322.50" width="1.9" height="3.00"/><rect x="212.31" y="326.55" width="1.9" height="1.65"/><rect x="212.31" y="329.25" width="1.9" height="1.65"/><rect x="212.31" y="331.95" width="1.9" height="1.65"/><rect x="212.31" y="334.65" width="1.9" height="1.65"/><rect x="212.31" y="337.35" width="1.9" height="1.65"/><rect x="212.31" y="340.05" width="1.9" height="1.65"/><rect x="212.31" y="342.75" width="1.9" height="1.65"/><rect x="212.31" y="345.45" width="1.9" height="1.65"/><rect x="212.31" y="348.15" width="1.9" height="1.65"/><rect x="212.31" y="350.85" width="1.9" height="3.00"/><rect x="212.31" y="354.90" width="1.9" height="1.65"/><rect x="212.31" y="357.60" width="1.9" height="1.65"/><rect x="217.87" y="241.50" width="1.9" height="3.00"/><rect x="217.87" y="245.55" width="1.9" height="1.65"/><rect x="217.87" y="248.25" width="1.9" height="1.65"/><rect x="217.87" y="250.95" width="1.9" height="3.00"/><rect x="217.87" y="255.00" width="1.9" height="1.65"/><rect x="217.87" y="257.70" width="1.9" height="3.00"/><rect x="217.87" y="261.75" width="1.9" height="1.65"/><rect x="217.87" y="264.45" width="1.9" height="1.65"/><rect x="217.87" y="267.15" width="1.9" height="3.00"/><rect x="217.87" y="271.20" width="1.9" height="1.65"/><rect x="217.87" y="273.90" width="1.9" height="1.65"/><rect x="217.87" y="276.60" width="1.9" height="3.00"/><rect x="217.87" y="280.65" width="1.9" height="1.65"/><rect x="217.87" y="283.35" width="1.9" height="1.65"/><rect x="217.87" y="286.05" width="1.9" height="3.00"/><rect x="217.87" y="290.10" width="1.9" height="1.65"/><rect x="217.87" y="292.80" width="1.9" height="1.65"/><rect x="217.87" y="295.50" width="1.9" height="3.00"/><rect x="217.87" y="299.55" width="1.9" height="1.65"/><rect x="217.87" y="302.25" width="1.9" height="1.65"/><rect x="217.87" y="304.95" width="1.9" height="3.00"/><rect x="217.87" y="309.00" width="1.9" height="1.65"/><rect x="217.87" y="311.70" width="1.9" height="1.65"/><rect x="217.87" y="314.40" width="1.9" height="1.65"/><rect x="217.87" y="317.10" width="1.9" height="3.00"/><rect x="217.87" y="321.15" width="1.9" height="1.65"/><rect x="217.87" y="323.85" width="1.9" height="1.65"/><rect x="217.87" y="326.55" width="1.9" height="1.65"/><rect x="217.87" y="329.25" width="1.9" height="3.00"/><rect x="217.87" y="333.30" width="1.9" height="1.65"/><rect x="217.87" y="336.00" width="1.9" height="1.65"/><rect x="217.87" y="338.70" width="1.9" height="1.65"/><rect x="217.87" y="341.40" width="1.9" height="1.65"/><rect x="217.87" y="344.10" width="1.9" height="3.00"/><rect x="217.87" y="348.15" width="1.9" height="1.65"/><rect x="217.87" y="350.85" width="1.9" height="1.65"/><rect x="217.87" y="353.55" width="1.9" height="1.65"/><rect x="217.87" y="356.25" width="1.9" height="1.65"/><rect x="217.87" y="358.95" width="1.9" height="3.00"/><rect x="223.42" y="248.25" width="1.9" height="1.65"/><rect x="223.42" y="250.95" width="1.9" height="3.00"/><rect x="223.42" y="255.00" width="1.9" height="1.65"/><rect x="223.42" y="257.70" width="1.9" height="3.00"/><rect x="223.42" y="261.75" width="1.9" height="1.65"/><rect x="223.42" y="264.45" width="1.9" height="3.00"/><rect x="223.42" y="268.50" width="1.9" height="1.65"/><rect x="223.42" y="271.20" width="1.9" height="3.00"/><rect x="223.42" y="275.25" width="1.9" height="1.65"/><rect x="223.42" y="277.95" width="1.9" height="3.00"/><rect x="223.42" y="282.00" width="1.9" height="1.65"/><rect x="223.42" y="284.70" width="1.9" height="3.00"/><rect x="223.42" y="288.75" width="1.9" height="1.65"/><rect x="223.42" y="291.45" width="1.9" height="3.00"/><rect x="223.42" y="295.50" width="1.9" height="1.65"/><rect x="223.42" y="298.20" width="1.9" height="3.00"/><rect x="223.42" y="302.25" width="1.9" height="1.65"/><rect x="223.42" y="304.95" width="1.9" height="1.65"/><rect x="223.42" y="307.65" width="1.9" height="3.00"/><rect x="223.42" y="311.70" width="1.9" height="1.65"/><rect x="223.42" y="314.40" width="1.9" height="3.00"/><rect x="223.42" y="318.45" width="1.9" height="1.65"/><rect x="223.42" y="321.15" width="1.9" height="1.65"/><rect x="223.42" y="323.85" width="1.9" height="3.00"/><rect x="223.42" y="327.90" width="1.9" height="1.65"/><rect x="223.42" y="330.60" width="1.9" height="3.00"/><rect x="223.42" y="334.65" width="1.9" height="1.65"/><rect x="223.42" y="337.35" width="1.9" height="1.65"/><rect x="223.42" y="340.05" width="1.9" height="3.00"/><rect x="223.42" y="344.10" width="1.9" height="1.65"/><rect x="223.42" y="346.80" width="1.9" height="1.65"/><rect x="223.42" y="349.50" width="1.9" height="3.00"/><rect x="223.42" y="353.55" width="1.9" height="1.65"/><rect x="223.42" y="356.25" width="1.9" height="1.65"/><rect x="223.42" y="358.95" width="1.9" height="1.65"/><rect x="223.42" y="361.65" width="1.9" height="3.00"/><rect x="228.98" y="255.00" width="1.9" height="1.65"/><rect x="228.98" y="257.70" width="1.9" height="3.00"/><rect x="228.98" y="261.75" width="1.9" height="1.65"/><rect x="228.98" y="264.45" width="1.9" height="3.00"/><rect x="228.98" y="268.50" width="1.9" height="3.00"/><rect x="228.98" y="272.55" width="1.9" height="3.00"/><rect x="228.98" y="276.60" width="1.9" height="1.65"/><rect x="228.98" y="279.30" width="1.9" height="3.00"/><rect x="228.98" y="283.35" width="1.9" height="3.00"/><rect x="228.98" y="287.40" width="1.9" height="1.65"/><rect x="228.98" y="290.10" width="1.9" height="3.00"/><rect x="228.98" y="294.15" width="1.9" height="1.65"/><rect x="228.98" y="296.85" width="1.9" height="3.00"/><rect x="228.98" y="300.90" width="1.9" height="3.00"/><rect x="228.98" y="304.95" width="1.9" height="1.65"/><rect x="228.98" y="307.65" width="1.9" height="3.00"/><rect x="228.98" y="311.70" width="1.9" height="1.65"/><rect x="228.98" y="314.40" width="1.9" height="3.00"/><rect x="228.98" y="318.45" width="1.9" height="1.65"/><rect x="228.98" y="321.15" width="1.9" height="3.00"/><rect x="228.98" y="325.20" width="1.9" height="3.00"/><rect x="228.98" y="329.25" width="1.9" height="1.65"/><rect x="228.98" y="331.95" width="1.9" height="3.00"/><rect x="228.98" y="336.00" width="1.9" height="1.65"/><rect x="228.98" y="338.70" width="1.9" height="3.00"/><rect x="228.98" y="342.75" width="1.9" height="1.65"/><rect x="228.98" y="345.45" width="1.9" height="3.00"/><rect x="228.98" y="349.50" width="1.9" height="1.65"/><rect x="228.98" y="352.20" width="1.9" height="1.65"/><rect x="228.98" y="354.90" width="1.9" height="3.00"/><rect x="228.98" y="358.95" width="1.9" height="1.65"/><rect x="228.98" y="361.65" width="1.9" height="3.00"/><rect x="228.98" y="365.70" width="1.9" height="1.65"/><rect x="234.54" y="261.75" width="1.9" height="3.00"/><rect x="234.54" y="265.80" width="1.9" height="1.65"/><rect x="234.54" y="268.50" width="1.9" height="3.00"/><rect x="234.54" y="272.55" width="1.9" height="3.00"/><rect x="234.54" y="276.60" width="1.9" height="3.00"/><rect x="234.54" y="280.65" width="1.9" height="3.00"/><rect x="234.54" y="284.70" width="1.9" height="3.00"/><rect x="234.54" y="288.75" width="1.9" height="3.00"/><rect x="234.54" y="292.80" width="1.9" height="3.00"/><rect x="234.54" y="296.85" width="1.9" height="1.65"/><rect x="234.54" y="299.55" width="1.9" height="3.00"/><rect x="234.54" y="303.60" width="1.9" height="3.00"/><rect x="234.54" y="307.65" width="1.9" height="3.00"/><rect x="234.54" y="311.70" width="1.9" height="3.00"/><rect x="234.54" y="315.75" width="1.9" height="1.65"/><rect x="234.54" y="318.45" width="1.9" height="3.00"/><rect x="234.54" y="322.50" width="1.9" height="3.00"/><rect x="234.54" y="326.55" width="1.9" height="1.65"/><rect x="234.54" y="329.25" width="1.9" height="3.00"/><rect x="234.54" y="333.30" width="1.9" height="3.00"/><rect x="234.54" y="337.35" width="1.9" height="1.65"/><rect x="234.54" y="340.05" width="1.9" height="3.00"/><rect x="234.54" y="344.10" width="1.9" height="3.00"/><rect x="234.54" y="348.15" width="1.9" height="1.65"/><rect x="234.54" y="350.85" width="1.9" height="3.00"/><rect x="234.54" y="354.90" width="1.9" height="3.00"/><rect x="234.54" y="358.95" width="1.9" height="1.65"/><rect x="234.54" y="361.65" width="1.9" height="3.00"/><rect x="234.54" y="365.70" width="1.9" height="1.65"/><rect x="234.54" y="368.40" width="1.9" height="1.65"/><rect x="240.10" y="267.15" width="1.9" height="1.65"/><rect x="240.10" y="269.85" width="1.9" height="3.00"/><rect x="240.10" y="273.90" width="1.9" height="3.00"/><rect x="240.10" y="277.95" width="1.9" height="3.00"/><rect x="240.10" y="282.00" width="1.9" height="4.35"/><rect x="240.10" y="287.40" width="1.9" height="3.00"/><rect x="240.10" y="291.45" width="1.9" height="3.00"/><rect x="240.10" y="295.50" width="1.9" height="3.00"/><rect x="240.10" y="299.55" width="1.9" height="3.00"/><rect x="240.10" y="303.60" width="1.9" height="3.00"/><rect x="240.10" y="307.65" width="1.9" height="3.00"/><rect x="240.10" y="311.70" width="1.9" height="3.00"/><rect x="240.10" y="315.75" width="1.9" height="3.00"/><rect x="240.10" y="319.80" width="1.9" height="3.00"/><rect x="240.10" y="323.85" width="1.9" height="1.65"/><rect x="240.10" y="326.55" width="1.9" height="3.00"/><rect x="240.10" y="330.60" width="1.9" height="3.00"/><rect x="240.10" y="334.65" width="1.9" height="3.00"/><rect x="240.10" y="338.70" width="1.9" height="3.00"/><rect x="240.10" y="342.75" width="1.9" height="3.00"/><rect x="240.10" y="346.80" width="1.9" height="3.00"/><rect x="240.10" y="350.85" width="1.9" height="1.65"/><rect x="240.10" y="353.55" width="1.9" height="3.00"/><rect x="240.10" y="357.60" width="1.9" height="3.00"/><rect x="240.10" y="361.65" width="1.9" height="3.00"/><rect x="240.10" y="365.70" width="1.9" height="1.65"/><rect x="240.10" y="368.40" width="1.9" height="3.00"/><rect x="245.66" y="272.55" width="1.9" height="1.65"/><rect x="245.66" y="275.25" width="1.9" height="3.00"/><rect x="245.66" y="279.30" width="1.9" height="4.35"/><rect x="245.66" y="284.70" width="1.9" height="3.00"/><rect x="245.66" y="288.75" width="1.9" height="4.35"/><rect x="245.66" y="294.15" width="1.9" height="3.00"/><rect x="245.66" y="298.20" width="1.9" height="3.00"/><rect x="245.66" y="302.25" width="1.9" height="3.00"/><rect x="245.66" y="306.30" width="1.9" height="4.35"/><rect x="245.66" y="311.70" width="1.9" height="3.00"/><rect x="245.66" y="315.75" width="1.9" height="3.00"/><rect x="245.66" y="319.80" width="1.9" height="3.00"/><rect x="245.66" y="323.85" width="1.9" height="3.00"/><rect x="245.66" y="327.90" width="1.9" height="3.00"/><rect x="245.66" y="331.95" width="1.9" height="3.00"/><rect x="245.66" y="336.00" width="1.9" height="4.35"/><rect x="245.66" y="341.40" width="1.9" height="3.00"/><rect x="245.66" y="345.45" width="1.9" height="3.00"/><rect x="245.66" y="349.50" width="1.9" height="3.00"/><rect x="245.66" y="353.55" width="1.9" height="3.00"/><rect x="245.66" y="357.60" width="1.9" height="3.00"/><rect x="245.66" y="361.65" width="1.9" height="3.00"/><rect x="245.66" y="365.70" width="1.9" height="1.65"/><rect x="245.66" y="368.40" width="1.9" height="3.00"/><rect x="245.66" y="372.45" width="1.9" height="1.65"/><rect x="251.22" y="277.95" width="1.9" height="3.00"/><rect x="251.22" y="282.00" width="1.9" height="3.00"/><rect x="251.22" y="286.05" width="1.9" height="4.35"/><rect x="251.22" y="291.45" width="1.9" height="4.35"/><rect x="251.22" y="296.85" width="1.9" height="3.00"/><rect x="251.22" y="300.90" width="1.9" height="4.35"/><rect x="251.22" y="306.30" width="1.9" height="3.00"/><rect x="251.22" y="310.35" width="1.9" height="4.35"/><rect x="251.22" y="315.75" width="1.9" height="3.00"/><rect x="251.22" y="319.80" width="1.9" height="4.35"/><rect x="251.22" y="325.20" width="1.9" height="3.00"/><rect x="251.22" y="329.25" width="1.9" height="4.35"/><rect x="251.22" y="334.65" width="1.9" height="3.00"/><rect x="251.22" y="338.70" width="1.9" height="3.00"/><rect x="251.22" y="342.75" width="1.9" height="4.35"/><rect x="251.22" y="348.15" width="1.9" height="3.00"/><rect x="251.22" y="352.20" width="1.9" height="3.00"/><rect x="251.22" y="356.25" width="1.9" height="3.00"/><rect x="251.22" y="360.30" width="1.9" height="3.00"/><rect x="251.22" y="364.35" width="1.9" height="4.35"/><rect x="251.22" y="369.75" width="1.9" height="3.00"/><rect x="251.22" y="373.80" width="1.9" height="1.65"/><rect x="255.39" y="283.35" width="1.9" height="4.35"/><rect x="255.39" y="288.75" width="1.9" height="4.35"/><rect x="255.39" y="294.15" width="1.9" height="4.35"/><rect x="255.39" y="299.55" width="1.9" height="4.35"/><rect x="255.39" y="304.95" width="1.9" height="4.35"/><rect x="255.39" y="310.35" width="1.9" height="4.35"/><rect x="255.39" y="315.75" width="1.9" height="4.35"/><rect x="255.39" y="321.15" width="1.9" height="4.35"/><rect x="255.39" y="326.55" width="1.9" height="3.00"/><rect x="255.39" y="330.60" width="1.9" height="4.35"/><rect x="255.39" y="336.00" width="1.9" height="4.35"/><rect x="255.39" y="341.40" width="1.9" height="3.00"/><rect x="255.39" y="345.45" width="1.9" height="4.35"/><rect x="255.39" y="350.85" width="1.9" height="3.00"/><rect x="255.39" y="354.90" width="1.9" height="4.35"/><rect x="255.39" y="360.30" width="1.9" height="3.00"/><rect x="255.39" y="364.35" width="1.9" height="4.35"/><rect x="255.39" y="369.75" width="1.9" height="3.00"/><rect x="255.39" y="373.80" width="1.9" height="3.00"/><rect x="260.95" y="287.40" width="1.9" height="4.35"/><rect x="260.95" y="292.80" width="1.9" height="4.35"/><rect x="260.95" y="298.20" width="1.9" height="5.70"/><rect x="260.95" y="304.95" width="1.9" height="4.35"/><rect x="260.95" y="310.35" width="1.9" height="4.35"/><rect x="260.95" y="315.75" width="1.9" height="5.70"/><rect x="260.95" y="322.50" width="1.9" height="4.35"/><rect x="260.95" y="327.90" width="1.9" height="4.35"/><rect x="260.95" y="333.30" width="1.9" height="4.35"/><rect x="260.95" y="338.70" width="1.9" height="4.35"/><rect x="260.95" y="344.10" width="1.9" height="4.35"/><rect x="260.95" y="349.50" width="1.9" height="4.35"/><rect x="260.95" y="354.90" width="1.9" height="3.00"/><rect x="260.95" y="358.95" width="1.9" height="4.35"/><rect x="260.95" y="364.35" width="1.9" height="4.35"/><rect x="260.95" y="369.75" width="1.9" height="4.35"/><rect x="260.95" y="375.15" width="1.9" height="3.00"/><rect x="266.51" y="291.45" width="1.9" height="4.35"/><rect x="266.51" y="296.85" width="1.9" height="5.70"/><rect x="266.51" y="303.60" width="1.9" height="5.70"/><rect x="266.51" y="310.35" width="1.9" height="5.70"/><rect x="266.51" y="317.10" width="1.9" height="4.35"/><rect x="266.51" y="322.50" width="1.9" height="5.70"/><rect x="266.51" y="329.25" width="1.9" height="5.70"/><rect x="266.51" y="336.00" width="1.9" height="4.35"/><rect x="266.51" y="341.40" width="1.9" height="4.35"/><rect x="266.51" y="346.80" width="1.9" height="5.70"/><rect x="266.51" y="353.55" width="1.9" height="4.35"/><rect x="266.51" y="358.95" width="1.9" height="4.35"/><rect x="266.51" y="364.35" width="1.9" height="4.35"/><rect x="266.51" y="369.75" width="1.9" height="4.35"/><rect x="266.51" y="375.15" width="1.9" height="4.35"/><rect x="272.07" y="295.50" width="1.9" height="4.35"/><rect x="272.07" y="300.90" width="1.9" height="7.05"/><rect x="272.07" y="309.00" width="1.9" height="7.05"/><rect x="272.07" y="317.10" width="1.9" height="5.70"/><rect x="272.07" y="323.85" width="1.9" height="7.05"/><rect x="272.07" y="331.95" width="1.9" height="5.70"/><rect x="272.07" y="338.70" width="1.9" height="5.70"/><rect x="272.07" y="345.45" width="1.9" height="4.35"/><rect x="272.07" y="350.85" width="1.9" height="5.70"/><rect x="272.07" y="357.60" width="1.9" height="5.70"/><rect x="272.07" y="364.35" width="1.9" height="4.35"/><rect x="272.07" y="369.75" width="1.9" height="5.70"/><rect x="272.07" y="376.50" width="1.9" height="4.35"/><rect x="277.63" y="299.55" width="1.9" height="8.40"/><rect x="277.63" y="309.00" width="1.9" height="7.05"/><rect x="277.63" y="317.10" width="1.9" height="8.40"/><rect x="277.63" y="326.55" width="1.9" height="7.05"/><rect x="277.63" y="334.65" width="1.9" height="5.70"/><rect x="277.63" y="341.40" width="1.9" height="7.05"/><rect x="277.63" y="349.50" width="1.9" height="5.70"/><rect x="277.63" y="356.25" width="1.9" height="5.70"/><rect x="277.63" y="363.00" width="1.9" height="7.05"/><rect x="277.63" y="371.10" width="1.9" height="5.70"/><rect x="277.63" y="377.85" width="1.9" height="4.35"/><rect x="283.19" y="302.25" width="1.9" height="4.35"/><rect x="283.19" y="307.65" width="1.9" height="9.75"/><rect x="283.19" y="318.45" width="1.9" height="8.40"/><rect x="283.19" y="327.90" width="1.9" height="8.40"/><rect x="283.19" y="337.35" width="1.9" height="8.40"/><rect x="283.19" y="346.80" width="1.9" height="7.05"/><rect x="283.19" y="354.90" width="1.9" height="7.05"/><rect x="283.19" y="363.00" width="1.9" height="7.05"/><rect x="283.19" y="371.10" width="1.9" height="7.05"/><rect x="283.19" y="379.20" width="1.9" height="4.35"/><rect x="288.75" y="306.30" width="1.9" height="11.10"/><rect x="288.75" y="318.45" width="1.9" height="12.45"/><rect x="288.75" y="331.95" width="1.9" height="9.75"/><rect x="288.75" y="342.75" width="1.9" height="8.40"/><rect x="288.75" y="352.20" width="1.9" height="9.75"/><rect x="288.75" y="363.00" width="1.9" height="7.05"/><rect x="288.75" y="371.10" width="1.9" height="8.40"/><rect x="288.75" y="380.55" width="1.9" height="4.35"/><rect x="294.31" y="309.00" width="1.9" height="9.75"/><rect x="294.31" y="319.80" width="1.9" height="15.15"/><rect x="294.31" y="336.00" width="1.9" height="12.45"/><rect x="294.31" y="349.50" width="1.9" height="11.10"/><rect x="294.31" y="361.65" width="1.9" height="9.75"/><rect x="294.31" y="372.45" width="1.9" height="8.40"/><rect x="294.31" y="381.90" width="1.9" height="4.35"/><rect x="299.87" y="311.70" width="1.9" height="9.75"/><rect x="299.87" y="322.50" width="1.9" height="20.55"/><rect x="299.87" y="344.10" width="1.9" height="15.15"/><rect x="299.87" y="360.30" width="1.9" height="12.45"/><rect x="299.87" y="373.80" width="1.9" height="11.10"/><rect x="299.87" y="385.95" width="1.9" height="1.65"/><rect x="305.43" y="314.40" width="1.9" height="15.15"/><rect x="305.43" y="330.60" width="1.9" height="25.95"/><rect x="305.43" y="357.60" width="1.9" height="16.50"/><rect x="305.43" y="375.15" width="1.9" height="12.45"/><rect x="310.99" y="317.10" width="1.9" height="32.70"/><rect x="310.99" y="350.85" width="1.9" height="27.30"/><rect x="310.99" y="379.20" width="1.9" height="9.75"/><rect x="315.16" y="319.80" width="1.9" height="63.75"/><rect x="315.16" y="384.60" width="1.9" height="5.70"/><rect x="320.72" y="322.50" width="1.9" height="67.80"/><rect x="326.28" y="325.20" width="1.9" height="66.45"/><rect x="331.84" y="326.55" width="1.9" height="65.10"/><rect x="337.40" y="329.25" width="1.9" height="63.75"/><rect x="342.96" y="330.60" width="1.9" height="63.75"/><rect x="348.52" y="333.30" width="1.9" height="61.05"/><rect x="354.08" y="334.65" width="1.9" height="59.70"/><rect x="359.64" y="336.00" width="1.9" height="59.70"/><rect x="365.20" y="338.70" width="1.9" height="57.00"/><rect x="370.76" y="340.05" width="1.9" height="57.00"/><rect x="374.93" y="341.40" width="1.9" height="55.65"/><rect x="380.49" y="342.75" width="1.9" height="55.65"/><rect x="386.05" y="344.10" width="1.9" height="54.30"/><rect x="391.61" y="345.45" width="1.9" height="52.95"/><rect x="397.17" y="346.80" width="1.9" height="52.95"/><rect x="402.73" y="348.15" width="1.9" height="51.60"/><rect x="408.29" y="349.50" width="1.9" height="50.25"/><rect x="413.85" y="350.85" width="1.9" height="50.25"/><rect x="419.41" y="352.20" width="1.9" height="48.90"/><rect x="424.97" y="353.55" width="1.9" height="47.55"/><rect x="429.14" y="354.90" width="1.9" height="47.55"/><rect x="434.70" y="354.90" width="1.9" height="47.55"/><rect x="440.26" y="356.25" width="1.9" height="46.20"/><rect x="445.82" y="357.60" width="1.9" height="44.85"/><rect x="451.38" y="358.95" width="1.9" height="44.85"/><rect x="456.94" y="358.95" width="1.9" height="44.85"/><rect x="462.50" y="360.30" width="1.9" height="43.50"/><rect x="468.06" y="361.65" width="1.9" height="42.15"/><rect x="473.62" y="361.65" width="1.9" height="43.50"/><rect x="479.18" y="363.00" width="1.9" height="42.15"/><rect x="484.74" y="364.35" width="1.9" height="40.80"/><rect x="488.91" y="364.35" width="1.9" height="40.80"/><rect x="494.47" y="365.70" width="1.9" height="39.45"/><rect x="500.03" y="365.70" width="1.9" height="40.80"/><rect x="505.59" y="367.05" width="1.9" height="39.45"/><rect x="511.16" y="367.05" width="1.9" height="39.45"/><rect x="516.71" y="368.40" width="1.9" height="38.10"/><rect x="522.27" y="368.40" width="1.9" height="38.10"/><rect x="527.83" y="369.75" width="1.9" height="38.10"/></g>
<g fill="#000"><circle cx="149.82" cy="21.00" r="3.6"/><circle cx="155.25" cy="54.60" r="3.6"/><circle cx="160.68" cy="84.14" r="3.6"/><circle cx="166.12" cy="108.67" r="3.6"/><circle cx="171.55" cy="130.01" r="3.6"/><circle cx="176.98" cy="149.40" r="3.6"/><circle cx="182.41" cy="165.21" r="3.6"/><circle cx="187.84" cy="179.87" r="3.6"/><circle cx="193.28" cy="192.98" r="3.6"/><circle cx="198.71" cy="204.77" r="3.6"/><circle cx="204.14" cy="215.42" r="3.6"/><circle cx="209.57" cy="225.09" r="3.6"/><circle cx="215.00" cy="233.90" r="3.6"/><circle cx="220.44" cy="241.97" r="3.6"/><circle cx="225.87" cy="249.38" r="3.6"/><circle cx="231.30" cy="256.22" r="3.6"/><circle cx="236.73" cy="262.54" r="3.6"/><circle cx="242.16" cy="268.39" r="3.6"/><circle cx="247.60" cy="273.84" r="3.6"/><circle cx="253.03" cy="278.92" r="3.6"/><circle cx="258.46" cy="283.67" r="3.6"/><circle cx="263.89" cy="288.11" r="3.6"/><circle cx="269.32" cy="292.28" r="3.6"/><circle cx="274.76" cy="296.20" r="3.6"/><circle cx="280.19" cy="299.89" r="3.6"/><circle cx="285.62" cy="303.37" r="3.6"/><circle cx="291.05" cy="306.66" r="3.6"/><circle cx="296.48" cy="309.78" r="3.6"/><circle cx="301.92" cy="312.73" r="3.6"/><circle cx="307.35" cy="315.54" r="3.6"/><circle cx="312.78" cy="318.20" r="3.6"/><circle cx="318.21" cy="320.74" r="3.6"/><circle cx="323.64" cy="323.15" r="3.6"/><circle cx="329.08" cy="325.46" r="3.6"/><circle cx="334.51" cy="327.66" r="3.6"/><circle cx="339.94" cy="329.76" r="3.6"/><circle cx="345.37" cy="331.77" r="3.6"/><circle cx="350.80" cy="333.70" r="3.6"/><circle cx="356.24" cy="335.55" r="3.6"/><circle cx="361.67" cy="337.32" r="3.6"/><circle cx="367.10" cy="339.02" r="3.6"/><circle cx="372.53" cy="340.66" r="3.6"/><circle cx="377.96" cy="342.23" r="3.6"/><circle cx="383.40" cy="343.75" r="3.6"/><circle cx="388.83" cy="345.20" r="3.6"/><circle cx="394.26" cy="346.61" r="3.6"/><circle cx="399.69" cy="347.97" r="3.6"/><circle cx="405.12" cy="349.27" r="3.6"/><circle cx="410.56" cy="350.54" r="3.6"/><circle cx="415.99" cy="351.76" r="3.6"/><circle cx="421.42" cy="352.94" r="3.6"/><circle cx="426.85" cy="354.08" r="3.6"/><circle cx="432.28" cy="355.18" r="3.6"/><circle cx="437.72" cy="356.25" r="3.6"/><circle cx="443.15" cy="357.29" r="3.6"/><circle cx="448.58" cy="358.30" r="3.6"/><circle cx="454.01" cy="359.27" r="3.6"/><circle cx="459.44" cy="360.22" r="3.6"/><circle cx="464.88" cy="361.14" r="3.6"/><circle cx="470.31" cy="362.03" r="3.6"/><circle cx="475.74" cy="362.89" r="3.6"/><circle cx="481.17" cy="363.73" r="3.6"/><circle cx="486.60" cy="364.55" r="3.6"/><circle cx="492.04" cy="365.35" r="3.6"/><circle cx="497.47" cy="366.12" r="3.6"/><circle cx="502.90" cy="366.88" r="3.6"/><circle cx="508.33" cy="367.61" r="3.6"/><circle cx="513.76" cy="368.33" r="3.6"/><circle cx="519.20" cy="369.02" r="3.6"/><circle cx="524.63" cy="369.70" r="3.6"/><circle cx="530.06" cy="370.37" r="3.6"/></g>
<g fill="#0000ff"><circle cx="149.82" cy="284.18" r="3.6"/><circle cx="155.25" cy="296.29" r="3.6"/><circle cx="160.68" cy="307.10" r="3.6"/><circle cx="166.12" cy="315.17" r="3.6"/><circle cx="171.55" cy="322.68" r="3.6"/><circle cx="176.98" cy="329.23" r="3.6"/><circle cx="182.41" cy="334.98" r="3.6"/><circle cx="187.84" cy="340.09" r="3.6"/><circle cx="193.28" cy="344.64" r="3.6"/><circle cx="198.71" cy="348.74" r="3.6"/><circle cx="204.14" cy="352.43" r="3.6"/><circle cx="209.57" cy="355.78" r="3.6"/><circle cx="215.00" cy="358.84" r="3.6"/><circle cx="220.44" cy="361.64" r="3.6"/><circle cx="225.87" cy="364.21" r="3.6"/><circle cx="231.30" cy="366.58" r="3.6"/><circle cx="236.73" cy="368.77" r="3.6"/><circle cx="242.16" cy="370.81" r="3.6"/><circle cx="247.60" cy="372.70" r="3.6"/><circle cx="253.03" cy="374.46" r="3.6"/><circle cx="258.46" cy="376.11" r="3.6"/><circle cx="263.89" cy="377.65" r="3.6"/><circle cx="269.32" cy="379.10" r="3.6"/><circle cx="274.76" cy="380.47" r="3.6"/><circle cx="280.19" cy="381.75" r="3.6"/><circle cx="285.62" cy="382.96" r="3.6"/><circle cx="291.05" cy="384.11" r="3.6"/><circle cx="296.48" cy="385.19" r="3.6"/><circle cx="301.92" cy="386.22" r="3.6"/><circle cx="307.35" cy="387.20" r="3.6"/><circle cx="312.78" cy="388.13" r="3.6"/><circle cx="318.21" cy="389.01" r="3.6"/><circle cx="323.64" cy="389.86" r="3.6"/><circle cx="329.08" cy="390.66" r="3.6"/><circle cx="334.51" cy="391.43" r="3.6"/><circle cx="339.94" cy="392.16" r="3.6"/><circle cx="345.37" cy="392.87" r="3.6"/><circle cx="350.80" cy="393.54" r="3.6"/><circle cx="356.24" cy="394.19" r="3.6"/><circle cx="361.67" cy="394.81" r="3.6"/><circle cx="367.10" cy="395.40" r="3.6"/><circle cx="372.53" cy="395.97" r="3.6"/><circle cx="377.96" cy="396.52" r="3.6"/><circle cx="383.40" cy="397.05" r="3.6"/><circle cx="388.83" cy="397.56" r="3.6"/><circle cx="394.26" cy="398.06" r="3.6"/><circle cx="399.69" cy="398.53" r="3.6"/><circle cx="405.12" cy="398.99" r="3.6"/><circle cx="410.56" cy="399.43" r="3.6"/><circle cx="415.99" cy="399.86" r="3.6"/><circle cx="421.42" cy="400.27" r="3.6"/><circle cx="426.85" cy="400.67" r="3.6"/><circle cx="432.28" cy="401.06" r="3.6"/><circle cx="437.72" cy="401.44" r="3.6"/><circle cx="443.15" cy="401.80" r="3.6"/><circle cx="448.58" cy="402.15" r="3.6"/><circle cx="454.01" cy="402.49" r="3.6"/><circle cx="459.44" cy="402.83" r="3.6"/><circle cx="464.88" cy="403.15" r="3.6"/><circle cx="470.31" cy="403.46" r="3.6"/><circle cx="475.74" cy="403.77" r="3.6"/><circle cx="481.17" cy="404.06" r="3.6"/><circle cx="486.60" cy="404.35" r="3.6"/><circle cx="492.04" cy="404.63" r="3.6"/><circle cx="497.47" cy="404.90" r="3.6"/><circle cx="502.90" cy="405.17" r="3.6"/><circle cx="508.33" cy="405.42" r="3.6"/><circle cx="513.76" cy="405.68" r="3.6"/><circle cx="519.20" cy="405.92" r="3.6"/><circle cx="524.63" cy="406.16" r="3.6"/><circle cx="530.06" cy="406.39" r="3.6"/></g>
</g>
<g fill="none" stroke="#3c3c3c" stroke-width="2"><rect x="95" y="22.6" width="435.6" height="402"/></g>
<g stroke="#000" stroke-width="1.8" stroke-linecap="round">
<line x1="292" y1="182.5" x2="245.75" y2="256.8"/>
<line x1="345.5" y1="269.5" x2="243.7" y2="369.7"/>
</g>
<g fill="#fff" stroke="#000" stroke-width="2" shape-rendering="crispEdges">
<rect x="307" y="160" width="134" height="56"/>
<rect x="361" y="247" width="132" height="56"/>
</g>
<g font-family="Liberation Serif, serif" font-style="italic" font-size="24" fill="#000">
<text x="330.8" y="193.5">x</text><rect x="350.1" y="184.5" width="12.6" height="1.4" fill="#111"/><rect x="350.1" y="188.9" width="12.6" height="1.4" fill="#111"/><text x="370.6" y="193.5">x</text><text x="382.6" y="200.5" font-size="21.5">max</text><text x="384.5" y="280.3">x</text><rect x="403.8" y="271.3" width="12.6" height="1.4" fill="#111"/><rect x="403.8" y="275.7" width="12.6" height="1.4" fill="#111"/><text x="424.3" y="280.3">x</text><text x="436.3" y="287.3" font-size="21.5">min</text>
</g>
<g font-family="Liberation Sans, sans-serif" font-size="21.8" fill="#111" stroke="#fff" stroke-width="0.3" paint-order="fill stroke"><text transform="translate(85.30,31.40) scale(0.9,1)" text-anchor="end">36</text><text transform="translate(85.30,81.62) scale(0.9,1)" text-anchor="end">35.25</text><text transform="translate(85.30,131.83) scale(0.9,1)" text-anchor="end">34.5</text><text transform="translate(85.30,182.05) scale(0.9,1)" text-anchor="end">33.75</text><text transform="translate(85.30,232.26) scale(0.9,1)" text-anchor="end">33</text><text transform="translate(85.30,282.48) scale(0.9,1)" text-anchor="end">32.25</text><text transform="translate(85.30,332.70) scale(0.9,1)" text-anchor="end">31.5</text><text transform="translate(85.30,382.91) scale(0.9,1)" text-anchor="end">30.75</text><text transform="translate(85.30,433.13) scale(0.9,1)" text-anchor="end">30</text></g>
<g font-family="Liberation Sans, sans-serif" font-size="21.8" fill="#111" stroke="#fff" stroke-width="0.3" paint-order="fill stroke"><text transform="translate(103.85,454.80) scale(0.87,1)" text-anchor="middle">0</text><text transform="translate(153.45,454.80) scale(0.87,1)" text-anchor="middle">10</text><text transform="translate(207.10,454.80) scale(0.87,1)" text-anchor="middle">20</text><text transform="translate(261.35,454.80) scale(0.87,1)" text-anchor="middle">30</text><text transform="translate(315.00,454.80) scale(0.87,1)" text-anchor="middle">40</text><text transform="translate(370.30,454.80) scale(0.87,1)" text-anchor="middle">50</text><text transform="translate(424.35,454.80) scale(0.87,1)" text-anchor="middle">60</text><text transform="translate(478.75,454.80) scale(0.87,1)" text-anchor="middle">70</text><text transform="translate(523.10,454.80) scale(0.87,1)" text-anchor="middle">80</text></g>
<g font-family="Liberation Serif, serif" font-size="20.5" fill="#000" stroke="#fff" stroke-width="0.25" paint-order="fill stroke">
<text x="312" y="484.8" text-anchor="middle" font-size="21.3" textLength="111" lengthAdjust="spacingAndGlyphs">teeth_number</text>
<text transform="translate(30.2,221.9) rotate(-90)" text-anchor="middle" textLength="138.5" lengthAdjust="spacing">adendum_angle</text>
</g>
</svg>
</body></html>
